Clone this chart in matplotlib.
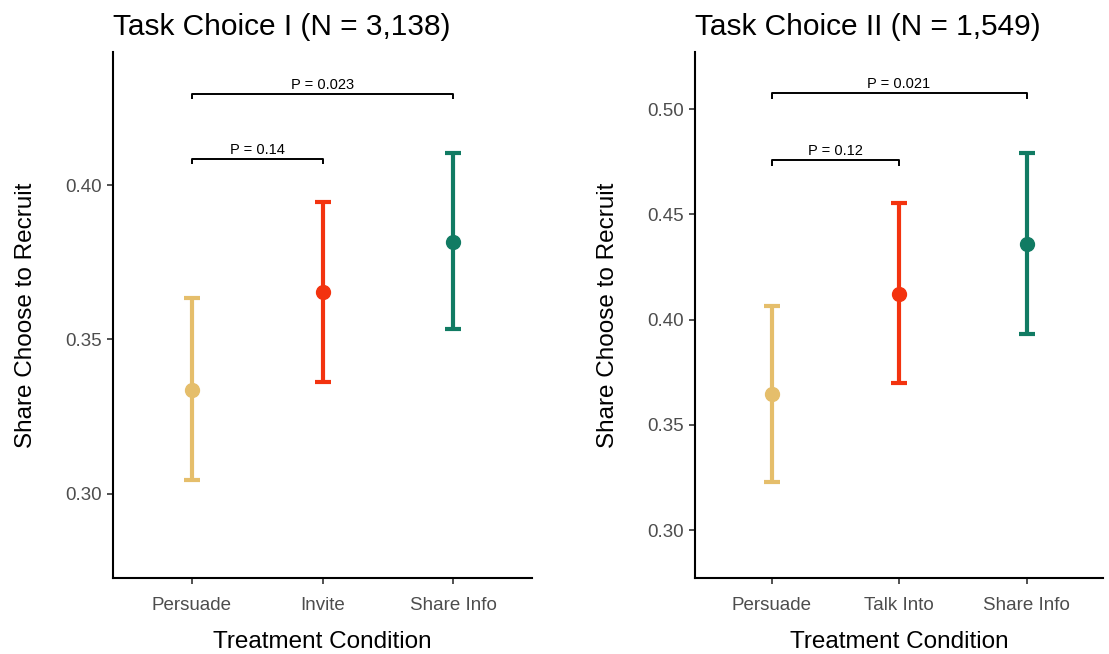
import matplotlib
matplotlib.use("Agg")
import matplotlib.pyplot as plt

plt.rcParams['font.family'] = ['Liberation Sans', 'DejaVu Sans']

# ---- data ----
colors = ["#E5BE6B", "#F3330F", "#117B63"]

left_title = "Task Choice I (N = 3,138)"
left_cats = ["Persuade", "Invite", "Share Info"]
left_mean = [0.3335, 0.3653, 0.3817]
left_lo = [0.3043, 0.3361, 0.3534]
left_hi = [0.3633, 0.3944, 0.4105]
left_brackets = [(0, 1, 0.4086, "P = 0.14"), (0, 2, 0.4297, "P = 0.023")]
left_ylim = (0.2726, 0.4432)
left_yticks = [0.30, 0.35, 0.40]

right_title = "Task Choice II (N = 1,549)"
right_cats = ["Persuade", "Talk Into", "Share Info"]
right_mean = [0.3647, 0.4122, 0.4358]
right_lo = [0.3229, 0.3698, 0.3931]
right_hi = [0.4065, 0.4552, 0.4793]
right_brackets = [(0, 1, 0.4758, "P = 0.12"), (0, 2, 0.5075, "P = 0.021")]
right_ylim = (0.2773, 0.5271)
right_yticks = [0.30, 0.35, 0.40, 0.45, 0.50]

W, H = 1109, 654
fig = plt.figure(figsize=(W / 100, H / 100), dpi=100)

def panel(rect, title, cats, mean, lo, hi, brackets, ylim, yticks):
    ax = fig.add_axes(rect)
    xs = list(range(len(cats)))
    for i in xs:
        ax.errorbar(xs[i], mean[i],
                    yerr=[[mean[i] - lo[i]], [hi[i] - mean[i]]],
                    fmt='o', color=colors[i], ecolor=colors[i],
                    elinewidth=3.0, capsize=6, capthick=3.0,
                    markersize=10, zorder=3)
    ax.set_xlim(-0.6, len(cats) - 0.4)
    ax.set_ylim(*ylim)
    ax.set_yticks(yticks)
    ax.set_yticklabels([f"{v:.2f}" for v in yticks])
    ax.set_xticks(xs)
    ax.set_xticklabels(cats)
    # brackets
    tip = (ylim[1] - ylim[0]) * 0.011
    for a, b, y, lab in brackets:
        ax.plot([a, a, b, b], [y - tip, y, y, y - tip], color='black',
                lw=1.4, solid_capstyle='butt', zorder=2)
        ax.annotate(lab, xy=((a + b) / 2, y), xytext=(0, 1.5),
                    textcoords='offset points', ha='center', va='bottom',
                    fontsize=10.5, color='black')
    for s in ['top', 'right']:
        ax.spines[s].set_visible(False)
    for s in ['left', 'bottom']:
        ax.spines[s].set_linewidth(1.5)
        ax.spines[s].set_color('black')
    ax.tick_params(axis='both', length=4, width=1.2, color='#333333',
                   labelsize=13.5, labelcolor='#4D4D4D', pad=4)
    ax.tick_params(axis='x', pad=9.5)
    ax.set_xlabel("Treatment Condition", fontsize=17.5, color='black', labelpad=12.5)
    ax.set_ylabel("Share Choose to Recruit", fontsize=17.5, color='black', labelpad=20)
    ax.set_title(title, loc='left', fontsize=21.5, color='black', pad=12)
    return ax

bottom = (H - 578) / H
height = (578 - 52) / H
panel([113 / W, bottom, (532 - 113) / W, height], left_title, left_cats,
      left_mean, left_lo, left_hi, left_brackets, left_ylim, left_yticks)
panel([695 / W, bottom, (1103 - 695) / W, height], right_title, right_cats,
      right_mean, right_lo, right_hi, right_brackets, right_ylim, right_yticks)

fig.savefig("out.png", dpi=100, facecolor='white')
